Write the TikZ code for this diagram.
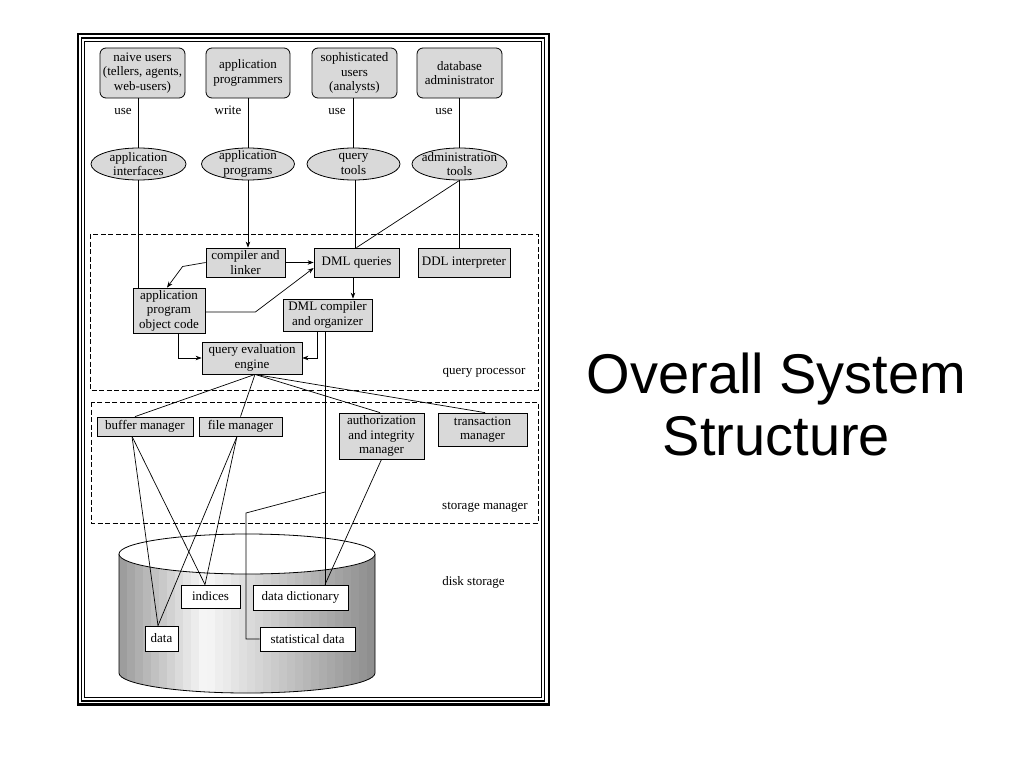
\documentclass[tikz,border=0pt]{standalone}
\usepackage{fontspec}
\setmainfont{Liberation Serif}
\newfontfamily\titlefont{Liberation Sans}
\usetikzlibrary{shapes.geometric,arrows.meta}

\begin{document}
\begin{tikzpicture}[x=1pt,y=-1pt,line width=0.7pt,
  every node/.style={font=\fontsize{13}{14.5}\selectfont},
  userbox/.style={draw,line width=0.8pt,rounded corners=6pt,fill=black!15,align=center,inner sep=1pt},
  toolell/.style={draw,line width=0.8pt,ellipse,fill=black!15,align=center,inner xsep=-8pt,inner ysep=-2.5pt},
  procbox/.style={draw,line width=0.8pt,fill=black!15,align=center,inner sep=1pt},
  diskbox/.style={draw,line width=0.8pt,fill=white,align=center,inner sep=1pt},
  dashbox/.style={line width=0.6pt,dash pattern=on 5pt off 2.5pt},
  >={Stealth[length=6pt,width=4.5pt]}]
\useasboundingbox (0,0) rectangle (1024,768);

% frame
\draw[line width=2.5pt] (78,34) rectangle (548.8,704.5);
\draw[line width=1.4pt] (81.5,38) rectangle (544.3,701);
\draw[line width=0.9pt] (84.5,41) rectangle (541,697.5);

% the two dashed parts
\draw[dashbox] (90,234) rectangle (538,390);
\draw[dashbox] (91,402) rectangle (538,523);

% disk
\begin{scope}
\clip (119,554) -- (119,673) arc[start angle=180,end angle=0,x radius=128,y radius=20]
  -- (375,554) arc[start angle=0,end angle=180,x radius=128,y radius=20] -- cycle;
\foreach \i in {0,...,31} {
  \pgfmathsetmacro{\xs}{119+8*\i}
  \pgfmathsetmacro{\v}{\xs<201 ? 3+37*(201-\xs)/86 : 3+42*(\xs-201)/170}
  \fill[black!\v] (\xs,530) rectangle ++(8.6,170);
}
\end{scope}
\draw[line width=0.8pt] (119,554) -- (119,673) arc[start angle=180,end angle=0,x radius=128,y radius=20] -- (375,554);
\draw[line width=0.8pt,fill=white] (247,554) ellipse [x radius=128,y radius=20];

% users
\node[userbox,minimum width=85pt,minimum height=50pt] (nu) at (142.5,73) {naive users\\(tellers, agents,\\web-users)};
\node[userbox,minimum width=84pt,minimum height=50pt] (ap) at (248,73) {application\\programmers};
\node[userbox,minimum width=85pt,minimum height=50pt] (su) at (354.5,73) {sophisticated\\users\\(analysts)};
\node[userbox,minimum width=85pt,minimum height=50pt] (dba) at (459.5,73) {database\\administrator};

\node[anchor=base] (u1) at (123,114) {use};
\node[anchor=base] (w2) at (228,114) {write};
\node[anchor=base] (u3) at (337,114) {use};
\node[anchor=base] (u4) at (444,114) {use};

% tools
\node[toolell,minimum width=95pt,minimum height=32pt] (ai) at (138.5,164) {application\\interfaces};
\node[toolell,minimum width=93pt,minimum height=32pt] (apg) at (248,164) {application\\programs};
\node[toolell,minimum width=93pt,minimum height=32pt] (qt) at (353.5,164) {query\\tools};
\node[toolell,minimum width=95pt,minimum height=32pt] (at) at (459.5,164) {administration\\tools};

% query processor
\node[procbox,minimum width=79pt,minimum height=29pt] (cl) at (245.5,262.5) {compiler and\\linker};
\node[procbox,minimum width=85pt,minimum height=29pt] (dq) at (356.5,262.5) {DML queries};
\node[procbox,minimum width=92pt,minimum height=29pt] (ddl) at (464,262.5) {DDL interpreter};
\node[procbox,minimum width=72pt,minimum height=45pt] (aoc) at (169,310.5) {application\\program\\object code};
\node[procbox,minimum width=89pt,minimum height=32pt] (dc) at (327.5,315) {DML compiler\\and organizer};
\node[procbox,minimum width=100pt,minimum height=32pt] (qe) at (252,358) {query evaluation\\engine};
\node (qpl) at (484,373) {query processor};

% storage manager
\node[procbox,minimum width=96pt,minimum height=19pt] (bm) at (145,426.5) {buffer manager};
\node[procbox,minimum width=83pt,minimum height=19pt] (fm) at (240.5,426.5) {file manager};
\node[procbox,minimum width=85pt,minimum height=46pt] (aim) at (381.5,436) {authorization\\and integrity\\manager};
\node[procbox,minimum width=89pt,minimum height=33pt] (tm) at (482.5,429.5) {transaction\\manager};
\node (sml) at (485,507) {storage manager};

% disk storage
\node[diskbox,minimum width=33pt,minimum height=25pt] (data) at (161.5,638.5) {data};
\node[diskbox,minimum width=59pt,minimum height=23pt] (idx) at (210.5,596.5) {indices};
\node[diskbox,minimum width=95pt,minimum height=25pt] (dd) at (300.5,597.5) {data dictionary};
\node[diskbox,minimum width=95pt,minimum height=24pt] (sd) at (307.5,639) {statistical data};
\node (dsl) at (473.5,582) {disk storage};

% title
\node[font=\titlefont\fontsize{56}{62}\selectfont,anchor=base] (ttl1) at (776.5,393) {Overall System};
\node[font=\titlefont\fontsize{56}{62}\selectfont,anchor=base] (ttl2) at (776.5,455) {Structure};

% users to tools
\draw (ai.north |- nu.south) -- (ai.north);
\draw (ap.south) -- (apg.north);
\draw (qt.north |- su.south) -- (qt.north);
\draw (dba.south) -- (at.north);

% tools to query processor
\draw (ai.south) -- (ai.south |- aoc.north);
\draw[->] (apg.south) -- (apg.south |- cl.north);
\draw ([xshift=1.5pt]qt.south) -- ([xshift=1.5pt]qt.south |- dq.north);
\draw (at.south) -- (dq.north);
\draw (at.south) -- (at.south |- ddl.north);

% inside query processor
\draw[->] (cl.east) -- (dq.west);
\draw[->] (cl.west) -- ++(-23,4) -- ([xshift=-2pt]aoc.north);
\draw[->] ([yshift=-1.5pt]aoc.east) -- ++(50,0) -- ([yshift=-5.5pt]dq.west);
\draw[->] ([xshift=9pt]aoc.south) |- (qe.west);
\draw[->] ([xshift=-10.5pt]dc.south) |- (qe.east);
\draw[->] ([xshift=-3.5pt]dq.south) -- ([xshift=-3.5pt]dq.south |- dc.north);

% dml compiler down to the disk
\coordinate (dcx) at ([xshift=-2.5pt]dc.south);
\coordinate (sb) at (dcx |- 0,492);
\coordinate (sk) at (246,513);
\draw (dcx) -- (dcx |- dd.north);
\draw (sb) -- (sk) |- (sd.west);

% engine to storage manager
\coordinate (qeb) at ([xshift=3pt]qe.south);
\draw (qeb) -- ([xshift=-10pt]bm.north);
\draw (qeb) -- (fm.north);
\draw (qeb) -- ([xshift=-1.5pt]aim.north);
\draw (qeb) -- ([xshift=2.5pt]tm.north);

% storage manager to disk
\coordinate (bmb) at ([xshift=-13pt]bm.south);
\coordinate (fmb) at ([xshift=-3.5pt]fm.south);
\coordinate (dat) at ([xshift=-3.5pt]data.north);
\coordinate (idt) at ([xshift=-5.5pt]idx.north);
\draw (bmb) -- (dat);
\draw (bmb) -- (idt);
\draw (fmb) -- (dat);
\draw (fmb) -- (idt);
\draw (aim.south) -- ([xshift=24.5pt]dd.north);
\end{tikzpicture}
\end{document}
